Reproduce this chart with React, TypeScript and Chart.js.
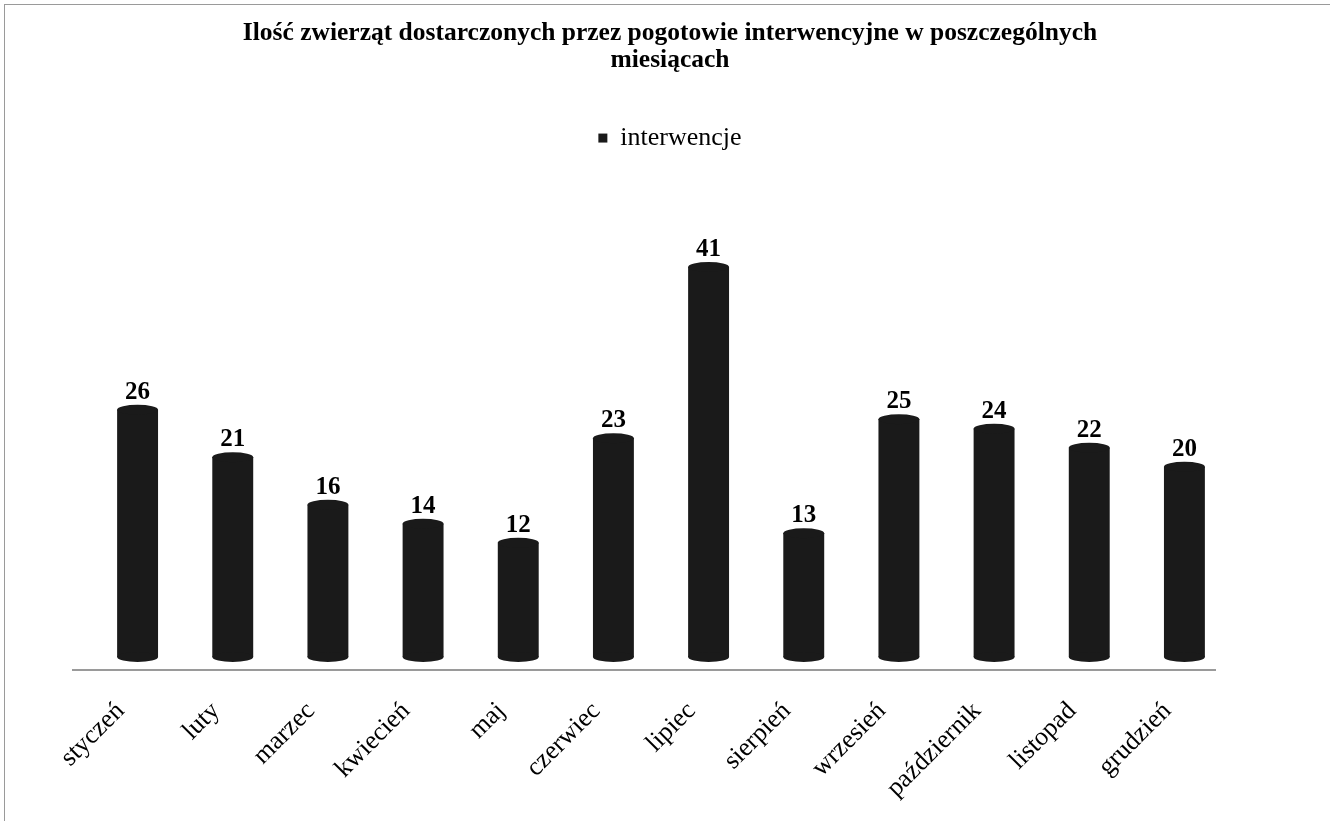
import React, { useEffect, useRef } from "react";
import { Chart, registerables } from "chart.js";

Chart.register(...registerables);

const titleLines = [
  "Ilość zwierząt dostarczonych przez pogotowie interwencyjne w poszczególnych",
  "miesiącach",
];
const seriesName = "interwencje";
const months = [
  "styczeń",
  "luty",
  "marzec",
  "kwiecień",
  "maj",
  "czerwiec",
  "lipiec",
  "sierpień",
  "wrzesień",
  "październik",
  "listopad",
  "grudzień",
];
const interwencje = [26, 21, 16, 14, 12, 23, 41, 13, 25, 24, 22, 20];

const SERIF = "'Liberation Serif', 'Times New Roman', serif";
const BAR_COLOR = "#1a1a1a";

const cylinderPlugin = {
  id: "cylinder",
  beforeDatasetsDraw(chart: any) {
    const ctx = chart.ctx;
    ctx.save();
    ctx.translate(17, -13);
  },
  afterDatasetsDraw(chart: any) {
    const ctx = chart.ctx;
    const meta = chart.getDatasetMeta(0);
    const data = chart.data.datasets[0].data as number[];
    meta.data.forEach((bar: any, i: number) => {
      const rx = bar.width / 2;
      const ry = 5;
      ctx.fillStyle = BAR_COLOR;
      ctx.beginPath();
      ctx.ellipse(bar.x, bar.y, rx, ry, 0, 0, Math.PI * 2);
      ctx.fill();
      ctx.beginPath();
      ctx.ellipse(bar.x, bar.base, rx, ry, 0, 0, Math.PI * 2);
      ctx.fill();
      ctx.fillStyle = "#000";
      ctx.font = `bold 25px ${SERIF}`;
      ctx.textAlign = "center";
      ctx.textBaseline = "alphabetic";
      ctx.fillText(String(data[i]), bar.x, bar.y - 11);
    });
    ctx.restore();
  },
};

export default function App() {
  const canvasRef = useRef<HTMLCanvasElement | null>(null);

  useEffect(() => {
    document.body.style.margin = "0";
    const canvas = canvasRef.current;
    if (!canvas) return;
    const chart = new Chart(canvas, {
      type: "bar",
      data: {
        labels: months,
        datasets: [
          {
            label: seriesName,
            data: interwencje,
            backgroundColor: BAR_COLOR,
            borderWidth: 0,
            barPercentage: 0.43,
            categoryPercentage: 1,
            yAxisID: "y",
          },
        ],
      },
      options: {
        animation: false,
        responsive: false,
        maintainAspectRatio: false,
        layout: { padding: { top: 20, left: 73, right: 63, bottom: 0 } },
        plugins: {
          title: {
            display: true,
            text: titleLines,
            color: "#000",
            font: { family: SERIF, size: 25.5, weight: "bold", lineHeight: 1.06 },
            padding: { top: 0, bottom: 43 },
          },
          legend: {
            display: true,
            labels: {
              color: "#000",
              boxWidth: 9,
              boxHeight: 9,
              padding: 8,
              font: { family: SERIF, size: 26 },
            },
          },
          tooltip: { enabled: false },
        },
        scales: {
          x: {
            grid: { display: false },
            border: { display: true, color: "#9a9a9a", width: 2 },
            ticks: {
              color: "#000",
              minRotation: 45,
              maxRotation: 45,
              padding: 18,
              font: { family: SERIF, size: 26 },
            },
            afterFit(scale: any) {
              scale.height = 151;
            },
          },
          y: {
            display: false,
            min: 0,
            max: 53.5,
          },
          y2: {
            position: "right",
            display: true,
            min: 0,
            max: 1,
            grid: { display: false },
            border: { display: false },
            ticks: { display: false },
            afterFit(scale: any) {
              scale.width = 52;
            },
          },
        },
      },
      plugins: [cylinderPlugin],
    });
    return () => chart.destroy();
  }, []);

  return (
    <div style={{ position: "relative", width: 1330, height: 821, background: "#fff" }}>
      <div
        style={{
          position: "absolute",
          left: 4,
          top: 4,
          right: 0,
          bottom: 0,
          borderTop: "1px solid #9a9a9a",
          borderLeft: "1px solid #9a9a9a",
        }}
      />
      <canvas
        ref={canvasRef}
        width={1330}
        height={821}
        style={{ position: "absolute", left: 0, top: 0, width: 1330, height: 821 }}
      />
    </div>
  );
}
